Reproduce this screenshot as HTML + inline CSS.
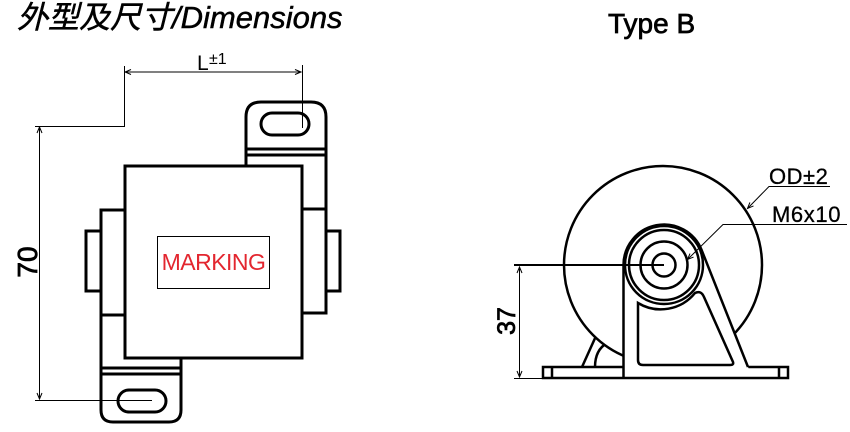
<!DOCTYPE html>
<html>
<head>
<meta charset="utf-8">
<style>
html,body{margin:0;padding:0;background:#fff;}
svg{display:block;}
text{font-family:"Liberation Sans","Noto Sans CJK SC",sans-serif;}
</style>
</head>
<body>
<svg width="850" height="432" viewBox="0 0 850 432" xmlns="http://www.w3.org/2000/svg">
<defs>
<marker id="ar" markerWidth="8" markerHeight="8" refX="7" refY="4" orient="auto-start-reverse" markerUnits="userSpaceOnUse">
<path d="M1,1.5 L7,4 L1,6.5" fill="none" stroke="#000" stroke-width="1"/>
</marker>
</defs>
<rect x="0" y="0" width="850" height="432" fill="#fff"/>

<!-- Title -->
<text x="17" y="28" font-size="31" font-style="italic" fill="#000" stroke="#000" stroke-width="0.5">外型及尺寸/Dimensions</text>
<text x="608" y="33" font-size="28" fill="#000" stroke="#000" stroke-width="0.7">Type B</text>

<!-- ===== Left drawing ===== -->
<g fill="none" stroke="#000" stroke-width="3">
  <path d="M246,166 V117 Q246,102 261,102 H311 Q326,102 326,117 V313 H302"/>
  <path d="M246,149 H326 M246,155 H326 M302,209 H326"/>
  <path d="M326,231 H340 V291 H326"/>
  <rect x="125" y="166" width="177" height="192"/>
  <path d="M125,210 H101 V410 Q101,422 113,422 H169 Q181,422 181,410 V358"/>
  <path d="M101,315 H125 M101,368 H181 M101,374 H181"/>
  <path d="M101,231 H86 V291 H101"/>
  <rect x="261" y="113" width="48" height="22" rx="11"/>
  <rect x="118" y="390" width="48" height="22" rx="11"/>
</g>
<rect x="157.5" y="236.5" width="112" height="52" fill="none" stroke="#000" stroke-width="1"/>
<text x="213.5" y="270" font-size="23" text-anchor="middle" letter-spacing="-0.5" fill="#e3262f">MARKING</text>

<!-- left dimensions -->
<g stroke="#000" stroke-width="1" fill="none">
  <line x1="125" y1="72" x2="301" y2="72" marker-start="url(#ar)" marker-end="url(#ar)"/>
  <path d="M124.5,66 V126.5 H35"/>
  <path d="M302.5,65 V128"/>
  <line x1="39.5" y1="127" x2="39.5" y2="399" marker-start="url(#ar)" marker-end="url(#ar)"/>
  <path d="M35,400.5 H152"/>
</g>
<text x="197" y="70" font-size="21" fill="#000">L</text>
<text x="209" y="64" font-size="16" fill="#000">±1</text>
<text transform="translate(37,262) rotate(-90)" x="0" y="0" font-size="28" text-anchor="middle" fill="#000" stroke="#000" stroke-width="0.8">70</text>

<!-- ===== Right drawing ===== -->
<g fill="none" stroke="#000" stroke-width="2.5">
  <path d="M582,367 L596,336"/>
  <path d="M595,367 Q595,350 607,343"/>
</g>
<circle cx="663" cy="265" r="99" fill="#fff" stroke="#000" stroke-width="2.5"/>
<rect x="543" y="367" width="245" height="11" fill="#fff" stroke="#000" stroke-width="2.5"/>
<path d="M552,367 V378 M779,367 V378" stroke="#000" stroke-width="2.5"/>
<path d="M623.5,369.5 V265 A40.5,40.5 0 0,1 701.6,250 L749,369.5 Z" fill="#fff" stroke="none"/>
<path d="M623.5,378 V265 A40.5,40.5 0 0,1 701.6,250 L748,367" fill="none" stroke="#000" stroke-width="2.5"/>
<g fill="none" stroke="#000" stroke-width="2.5">
  <circle cx="664" cy="265" r="39"/>
  <circle cx="664" cy="265" r="35"/>
  <circle cx="664" cy="265" r="23.5"/>
  <circle cx="664" cy="265" r="11.5"/>
  <path d="M638,303 A44,44 0 0,0 695,293 Q701,290 704,297 L733,362 Q734,365 730,365 L643,365 Q638,365 638,360 Z"/>
</g>

<!-- right dimensions -->
<line x1="514" y1="265" x2="664" y2="265" stroke="#000" stroke-width="2"/>
<g stroke="#000" stroke-width="1" fill="none">
  <line x1="519.5" y1="267" x2="519.5" y2="377" marker-start="url(#ar)" marker-end="url(#ar)"/>
  <path d="M514,378.5 H543"/>
  <path d="M830,186.5 H769 L747.5,208.5" marker-end="url(#ar)"/>
  <path d="M847,224.5 H723 L687.5,259.5" marker-end="url(#ar)"/>
</g>
<text transform="translate(515,321) rotate(-90)" x="0" y="0" font-size="25" text-anchor="middle" fill="#000" stroke="#000" stroke-width="0.8">37</text>
<text x="769" y="184" font-size="22" letter-spacing="0.5" fill="#000" stroke="#000" stroke-width="0.3">OD±2</text>
<text x="772" y="222" font-size="22" letter-spacing="0.6" fill="#000" stroke="#000" stroke-width="0.3">M6x10</text>
</svg>
</body>
</html>
